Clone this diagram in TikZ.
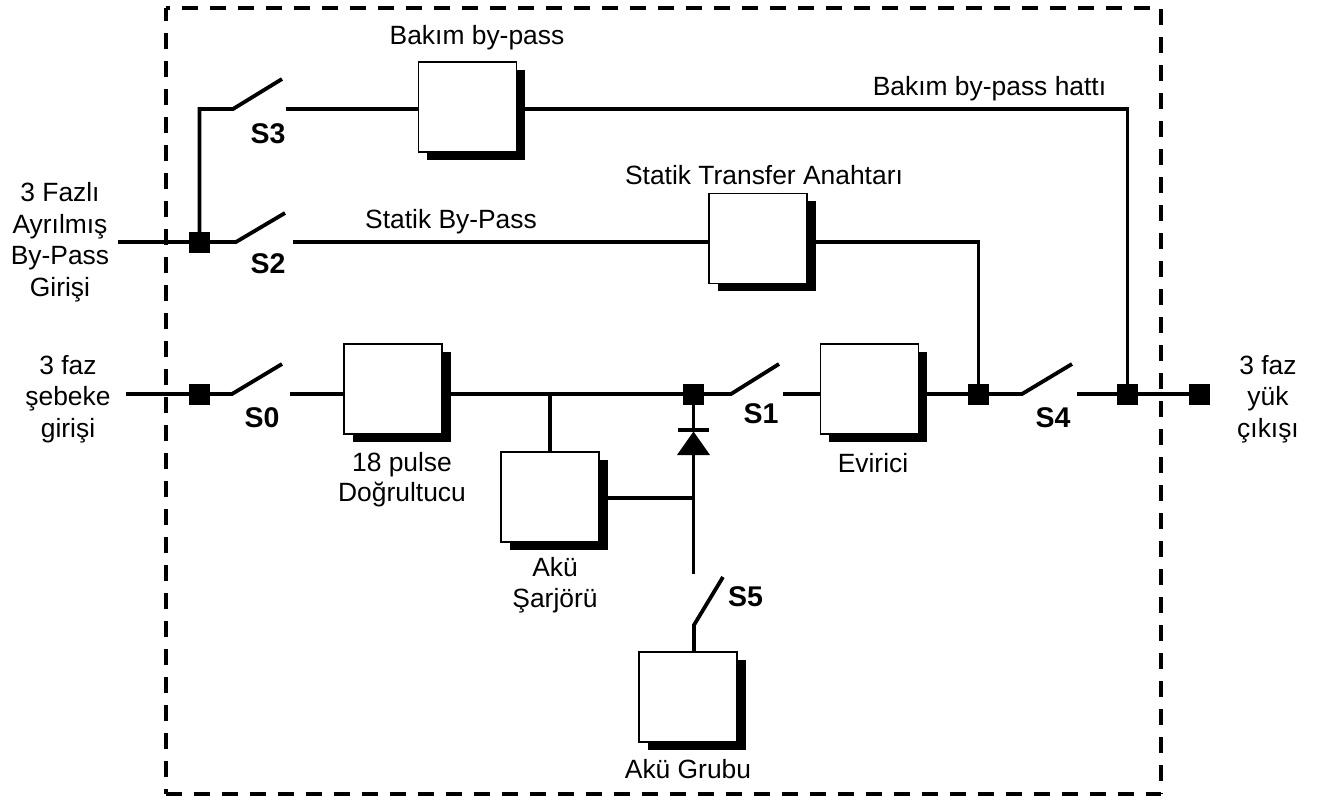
\documentclass[tikz,border=0pt]{standalone}
\usepackage{fontspec}
\setmainfont{Liberation Sans}
\usetikzlibrary{shadows,calc}
\tikzset{
  blockbox/.style={draw=black,fill=white,line width=1.8pt,rectangle,minimum width=98pt,minimum height=90pt,inner sep=0pt,outer sep=0pt,
    copy shadow={draw=none,fill=black,shadow xshift=8.5pt,shadow yshift=-7.5pt}},
  junc/.style={fill=black,draw=none,rectangle,minimum size=21pt,inner sep=0pt,outer sep=0pt},
  wire/.style={line width=3.8pt,line cap=butt,line join=miter},
  framedash/.style={line width=4pt,line cap=butt},
  lab/.style={font=\fontsize{26.4}{31.5}\selectfont,align=center,inner sep=0pt},
  swlab/.style={font=\fontsize{28.5}{32}\selectfont\bfseries,inner sep=0pt},
}
\begin{document}
\begin{tikzpicture}[x=1pt,y=-1pt]
\useasboundingbox (0,0) rectangle (1322,798);
% frame
\coordinate (fTL) at (165.5,8); \coordinate (fTR) at (1160.5,8);
\coordinate (fBR) at (1160.5,794); \coordinate (fBL) at (165.5,794);
\draw[framedash,dash pattern=on 16pt off 12pt,dash phase=11.5pt] (fTL) -- (fTR);
\draw[framedash,dash pattern=on 16pt off 12pt,dash phase=3pt] (fTL) -- (fBL);
\draw[framedash,dash pattern=on 16pt off 12pt,dash phase=27pt] (fTR) -- (fBR);
\draw[framedash,dash pattern=on 16pt off 12pt] (fBL) -- (fBR);
% terminals
\coordinate (inA) at (118,242);
\coordinate (inB) at (126,394);
\coordinate (s3a) at (233,109); \coordinate (s3t) at (282,79); \coordinate (s3b) at (286,109);
\coordinate (s2a) at (236,242); \coordinate (s2t) at (285,213); \coordinate (s2b) at (293,242);
\coordinate (s0a) at (232,394); \coordinate (s0t) at (282,364); \coordinate (s0b) at (290,394);
\coordinate (s1a) at (731,394); \coordinate (s1t) at (779,364); \coordinate (s1b) at (783,394);
\coordinate (s4a) at (1022,394); \coordinate (s4t) at (1072,364); \coordinate (s4b) at (1077,394);
\coordinate (s5a) at (694,625); \coordinate (s5t) at (723,577); \coordinate (s5b) at (694,574);
\coordinate (tap) at (550,394);
\coordinate (dioMid) at (693.5,498);
\coordinate (dk) at (693.5,430);
% blocks
\node[blockbox] (maint) at (467.5,107) {};
\node[blockbox] (stat) at (758,238.5) {};
\node[blockbox] (rect) at (393,389) {};
\node[blockbox] (inv) at (869.5,389) {};
\node[blockbox] (chg) at (550,497) {};
\node[blockbox] (bat) at (688,697) {};
% junctions
\node[junc] (j2) at (199.5,242) {};
\node[junc] (j0) at (199.5,394) {};
\node[junc] (jd) at (693.5,394) {};
\node[junc] (ji) at (978.5,394) {};
\node[junc] (jo) at (1127.5,394) {};
\node[junc] (jend) at (1199,394) {};
% diode
\fill[black] (693.5,431.5) -- (710,455) -- (677,455) -- cycle;
\draw[line width=3.8pt] (678,430) -- (709,430);
% connectors
\begin{scope}[wire]
\draw (inA) -- (j2.center) -- (s2a) -- (s2t);
\draw (j2.center) -- (j2.center |- s3a) -- (s3a) -- (s3t);
\draw (s3b) -- (maint.west |- s3b);
\draw (maint.east |- s3b) -- (jo.center |- s3b) -- (jo.center);
\draw (s2b) -- (stat.west |- s2b);
\draw (stat.east |- s2b) -- (ji.center |- s2b) -- (ji.center);
\draw (inB) -- (j0.center) -- (s0a) -- (s0t);
\draw (s0b) -- (rect.west |- s0b);
\draw (rect.east |- s0b) -- (jd.center) -- (s1a) -- (s1t);
\draw (s1b) -- (inv.west |- s1b);
\draw (inv.east |- s1b) -- (ji.center) -- (s4a) -- (s4t);
\draw (s4b) -- (jend.center);
\draw (tap) -- (chg.north);
\draw (chg.east |- dioMid) -- (dioMid);
\draw (jd.center) -- (dk);
\draw (693.5,452) -- (s5b -| dk);
\draw (bat.north -| s5a) -- (s5a) -- (s5t);
\end{scope}
% labels
\node[lab] (l1) at (477,38) {Bakım by-pass};
\node[lab] (l2) at (764,175) {Statik Transfer Anahtarı};
\node[lab] (l3) at (451,222) {Statik By-Pass};
\node[lab] (l4) at (989.5,89) {Bakım by-pass hattı};
\node[lab] (l5) at (60,242) {3 Fazlı\\Ayrılmış\\By-Pass\\Girişi};
\node[lab] (l6) at (68,399) {3 faz\\şebeke\\girişi};
\node[lab] (l7) at (1268,399) {3 faz\\yük\\çıkışı};
\node[lab] (l8a) at (402,465) {18 pulse};
\node[lab] (l8b) at (402,494) {Doğrultucu};
\node[lab] (l9) at (873,463) {Evirici};
\node[lab] (l10) at (555,585) {Akü\\Şarjörü};
\node[lab] (l11) at (688,769) {Akü Grubu};
\node[swlab] (t3) at (268,134) {S3};
\node[swlab] (t2) at (268,264) {S2};
\node[swlab] (t0) at (262,418) {S0};
\node[swlab] (t1) at (761,414) {S1};
\node[swlab] (t4) at (1053,418) {S4};
\node[swlab] (t5) at (745.5,597) {S5};
\end{tikzpicture}
\end{document}
